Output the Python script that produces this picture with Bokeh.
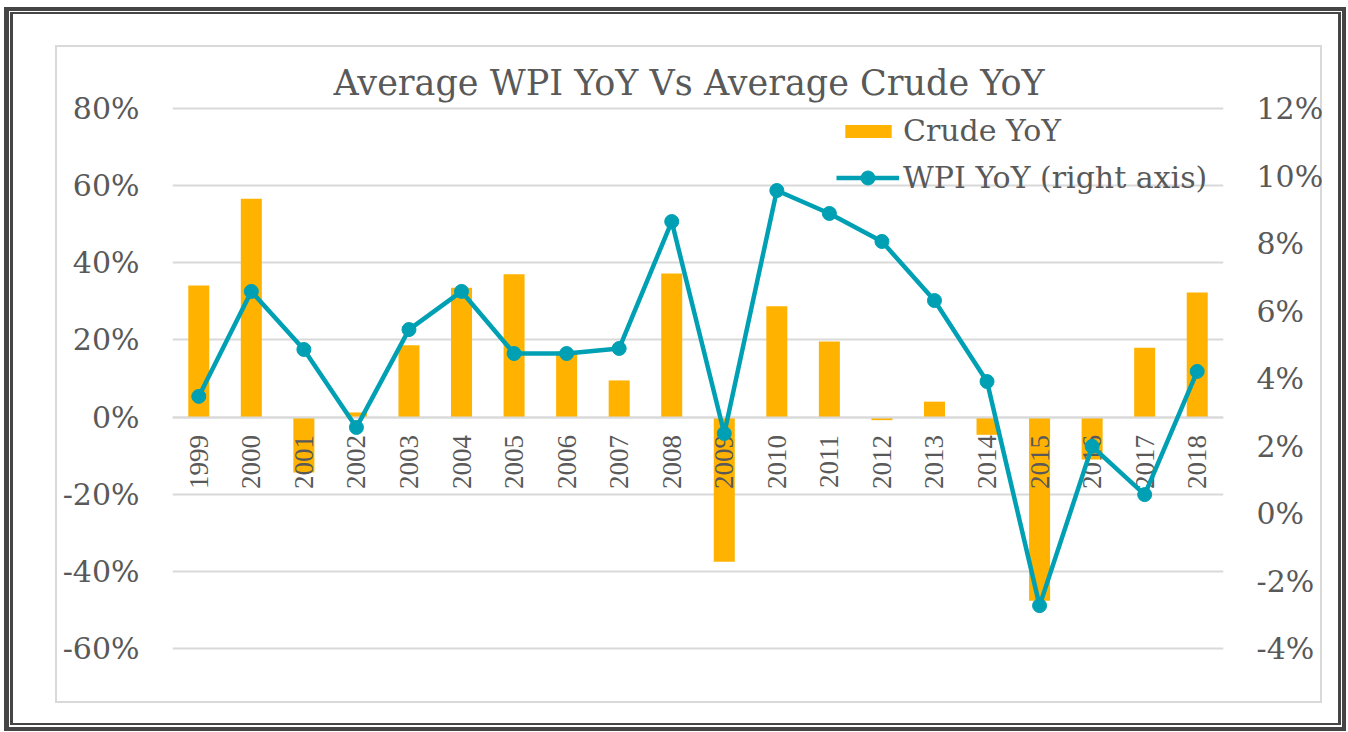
import math
from bokeh.plotting import figure
from bokeh.models import (Range1d, LinearAxis, FixedTicker, PrintfTickFormatter,
                          Legend, LegendItem, FactorRange)
from bokeh.embed import file_html
from bokeh.resources import INLINE

# ---------------- data ----------------
years = ["1999", "2000", "2001", "2002", "2003", "2004", "2005", "2006", "2007", "2008",
         "2009", "2010", "2011", "2012", "2013", "2014", "2015", "2016", "2017", "2018"]
crude_yoy = [34.1, 56.6, -14.4, 1.2, 18.6, 33.5, 37.0, 17.0, 9.5, 37.2,
             -37.5, 28.7, 19.6, -0.8, 4.0, -4.6, -47.6, -11.0, 18.0, 32.3]
wpi_yoy = [3.47, 6.58, 4.86, 2.55, 5.45, 6.58, 4.74, 4.74, 4.89, 8.65,
           2.37, 9.57, 8.89, 8.06, 6.31, 3.91, -2.73, 1.99, 0.56, 4.21]
left_ticks = [-60, -40, -20, 0, 20, 40, 60, 80]
right_ticks = [-4, -2, 0, 2, 4, 6, 8, 10, 12]
title_text = "Average WPI YoY Vs Average Crude YoY"
crude_label = "Crude YoY"
wpi_label = "WPI YoY (right axis)"

BAR = "#FFB300"
LINE = "#00A0B4"
TXT = "#595959"
GRID = "#D9D9D9"
DARK = "#454545"
FONT = "DejaVu Serif"

W, H = 1346, 731
# frame: left 172, right 1223, top 106, bottom 650 (2px pad so edge gridlines show)
pad_l = 2 * 140 / 540
pad_r = 2 * 16 / 540

p = figure(width=W, height=H, x_range=FactorRange(*years, range_padding=0),
           y_range=Range1d(-60 - pad_l, 80 + pad_l), output_backend="svg",
           toolbar_location=None,
           min_border_left=172, min_border_right=W - 1223, min_border_top=106,
           min_border_bottom=H - 650)
p.outline_line_color = None
p.background_fill_color = "white"
p.border_fill_color = None


def band(x, y, w, h, c):
    return f"linear-gradient({c},{c}) {x}px {y}px / {w}px {h}px no-repeat"


layers = [
    # outer dark double frame
    band(4, 7, 1342, 4, DARK), band(4, 727, 1342, 4, DARK),
    band(4, 7, 5, 724, DARK), band(1342, 7, 4, 724, DARK),
    band(10, 12, 1331, 2, DARK), band(10, 723, 1331, 2, DARK),
    band(10, 12, 3, 713, DARK), band(1338, 12, 3, 713, DARK),
    # inner light frame
    band(55, 45, 1267, 2, GRID), band(55, 701, 1267, 2, GRID),
    band(55, 45, 2, 658, GRID), band(1320, 45, 2, 658, GRID),
]
p.styles = {"background": ", ".join(layers) + ", white"}

p.title.text = title_text
p.title.text_font = FONT
p.title.text_font_size = "35px"
p.title.text_font_style = "normal"
p.title.text_color = TXT
p.title.align = "left"
p.title.offset = 161
p.title.standoff = 7

p.extra_y_ranges = {"right": Range1d(-4 - pad_r, 12 + pad_r)}

# grid
p.xgrid.grid_line_color = None
p.ygrid.grid_line_color = GRID
p.ygrid.grid_line_width = 2
p.ygrid.ticker = FixedTicker(ticks=left_ticks)

# left axis
ya = p.yaxis[0]
ya.ticker = FixedTicker(ticks=left_ticks)
ya.formatter = PrintfTickFormatter(format="%d%%")
ya.axis_line_color = None
ya.major_tick_line_color = None
ya.minor_tick_line_color = None
ya.major_tick_out = 0
ya.minor_tick_out = 0
ya.major_label_standoff = 33
ya.major_label_text_font = FONT
ya.major_label_text_font_size = "30px"
ya.major_label_text_color = TXT

# right axis
ra = LinearAxis(y_range_name="right", ticker=FixedTicker(ticks=right_ticks),
                formatter=PrintfTickFormatter(format="%d%%"))
ra.axis_line_color = None
ra.major_tick_line_color = None
ra.minor_tick_line_color = None
ra.major_tick_out = 0
ra.minor_tick_out = 0
ra.major_label_standoff = 33
ra.major_label_text_font = FONT
ra.major_label_text_font_size = "30px"
ra.major_label_text_color = TXT
p.add_layout(ra, "right")

# x axis at zero
xa = p.xaxis[0]
xa.fixed_location = 0
xa.axis_line_color = GRID
xa.axis_line_width = 2
xa.major_tick_line_color = None
xa.minor_tick_line_color = None
xa.major_tick_out = 0
xa.minor_tick_out = 0
xa.major_label_orientation = math.pi / 2
xa.major_label_standoff = 18
xa.major_label_text_font = "Liberation Serif"
xa.major_label_text_font_size = "27px"
xa.major_label_text_color = TXT

bars = p.vbar(x=years, top=crude_yoy, width=0.4, fill_color=BAR, line_color=None)
ln = p.line(x=years, y=wpi_yoy, y_range_name="right", line_color=LINE, line_width=4.5,
            level="annotation")
pts = p.scatter(x=years, y=wpi_yoy, y_range_name="right", size=14, fill_color=LINE,
                line_color=LINE, level="annotation")


def make_legend(items, loc, gw, gh, standoff):
    lg = Legend(items=items, location=loc, orientation="vertical")
    lg.border_line_color = None
    lg.background_fill_alpha = 0
    lg.padding = 0
    lg.margin = 0
    lg.spacing = 0
    lg.glyph_width = gw
    lg.glyph_height = gh
    lg.label_height = gh
    lg.label_standoff = standoff
    lg.label_text_font = FONT
    lg.label_text_font_size = "30px"
    lg.label_text_color = TXT
    return lg


leg1 = make_legend([LegendItem(label=crude_label, renderers=[bars])],
                   (667, 502), 58, 16, 6)
leg2 = make_legend([LegendItem(label=wpi_label, renderers=[ln, pts])],
                   (664, 455), 63, 35, 4)
p.add_layout(leg1, "center")
p.add_layout(leg2, "center")

open("out.html", "w").write(file_html(p, INLINE))
